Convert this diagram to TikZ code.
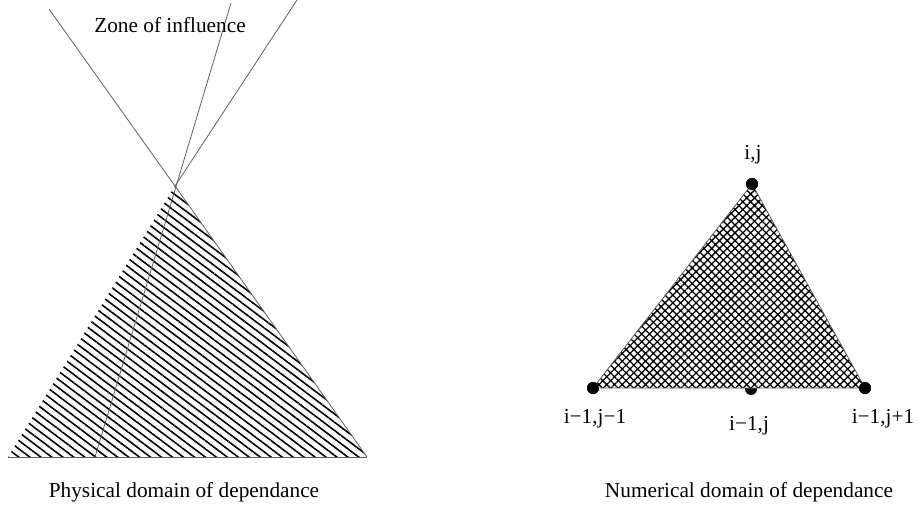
\documentclass[tikz,border=0pt]{standalone}
\usepackage{fontspec}
\setmainfont{Liberation Serif}
\usepackage{xcolor}
\usepackage{tikz}
\usetikzlibrary{patterns.meta, positioning}
\definecolor{edgegray}{RGB}{95,95,95}

\tikzset{
  thinline/.style={draw=edgegray, line width=0.8pt},
  dot/.style={circle, fill=black, inner sep=0pt, minimum size=12pt},
  lbl/.style={font=\fontsize{21.3}{25}\selectfont, anchor=base, inner sep=0pt},
}

\begin{document}
\begin{tikzpicture}[x=1pt, y=-1pt]
    \useasboundingbox (0,0) rectangle (918,509);
    % physical domain
    \coordinate (apex) at (175,186);
    \coordinate (bl) at (8,457);
    \coordinate (br) at (367,457);
    \coordinate (zl) at (49,9);
    \coordinate (zr) at (297,0);
    \coordinate (zm) at (231,3);
    \coordinate (mb) at (95,457);
    \fill[pattern={Lines[angle=-37, distance=6.6pt, line width=1.6pt]}]
      (apex) -- (bl) -- (br) -- cycle;
    \draw[thinline] (zl) -- (apex) -- (br);
    \draw[thinline] (zr) -- (apex);
    \draw[thinline] (zm) -- (mb);
    \draw[thinline] (bl) -- (br);
    \node[lbl] (zonelbl) at (170,32) {Zone of influence};
    \node[lbl] (physlbl) at (184,497) {Physical domain of dependance};
    % numerical domain
    \node[dot] (ij) at (752,184) {};
    \node[dot] (lm) at (593,388) {};
    \node[dot] (lc) at (751,389) {};
    \node[dot] (lp) at (865,388) {};
    \fill[white] (ij.center) -- (lm.center) -- (lp.center) -- cycle;
    \fill[pattern={Hatch[angle=45, distance=5.5pt, line width=1.3pt]}]
      (ij.center) -- (lm.center) -- (lp.center) -- cycle;
    \draw[thinline] (ij.center) -- (lm.center) -- (lp.center) -- cycle;
    \node[dot] at (ij) {};
    \node[dot] at (lm) {};
    \node[dot] at (lp) {};
    \node[lbl] (ijlbl) at (753,159) {i,j};
    \node[lbl] (lmlbl) at (595,423) {i−1,j−1};
    \node[lbl] (lclbl) at (749,430) {i−1,j};
    \node[lbl] (lplbl) at (883,423) {i−1,j+1};
    \node[lbl] (numlbl) at (749,497) {Numerical domain of dependance};
\end{tikzpicture}
\end{document}
